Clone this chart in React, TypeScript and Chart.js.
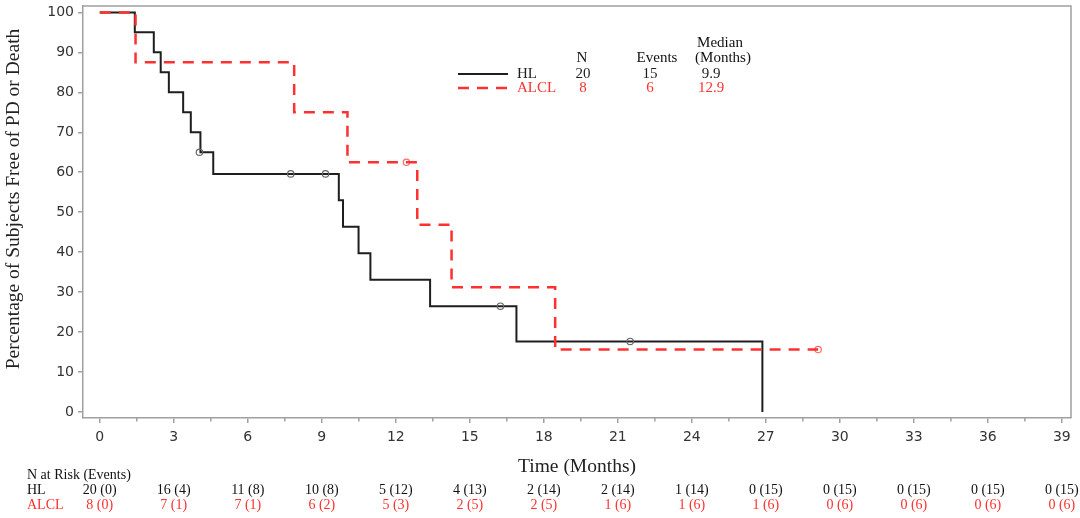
import React, { useEffect, useRef } from 'react';
import { Chart, registerables } from 'chart.js';

Chart.register(...registerables);

// ---- Data ----
const hlTimes = [0, 1.42, 2.19, 2.47, 2.8, 3.38, 3.69, 4.08, 4.6, 9.69, 9.86, 10.49, 10.97, 13.39, 16.89, 26.86];
const hlSurv = [100, 95, 90, 85, 80, 75, 70, 65, 59.58, 52.96, 46.34, 39.72, 33.1, 26.48, 17.65, 0];
const hlCensorTimes = [4.04, 7.74, 9.15, 16.24, 21.5];
const hlCensorSurv = [65, 59.58, 59.58, 26.48, 17.65];

const alclTimes = [0, 1.45, 7.88, 10.04, 12.87, 14.26, 18.46, 29.12];
const alclSurv = [100, 87.5, 75, 62.5, 46.88, 31.25, 15.63, 15.63];
const alclCensorTimes = [12.43, 29.12];
const alclCensorSurv = [62.5, 15.63];

const xTicks = [0, 3, 6, 9, 12, 15, 18, 21, 24, 27, 30, 33, 36, 39];
const xMinorTicks = [1.5, 4.5, 7.5, 10.5, 13.5, 16.5, 19.5, 22.5, 25.5, 28.5, 31.5, 34.5, 37.5];
const yTicks = [0, 10, 20, 30, 40, 50, 60, 70, 80, 90, 100];

const riskTimes = [0, 3, 6, 9, 12, 15, 18, 21, 24, 27, 30, 33, 36, 39];
const hlAtRisk = [20, 16, 11, 10, 5, 4, 2, 2, 1, 0, 0, 0, 0, 0];
const hlCumEvents = [0, 4, 8, 8, 12, 13, 14, 14, 14, 15, 15, 15, 15, 15];
const alclAtRisk = [8, 7, 7, 6, 5, 2, 2, 1, 1, 1, 0, 0, 0, 0];
const alclCumEvents = [0, 1, 1, 2, 3, 5, 5, 6, 6, 6, 6, 6, 6, 6];

const groupNames = ['HL', 'ALCL'];
const groupN = ['20', '8'];
const groupEvents = ['15', '6'];
const groupMedian = ['9.9', '12.9'];

// ---- Styles ----
const BLACK = '#1e1e1e';
const RED = '#ff3030';
const AXIS = '#a0a0a0';
const SERIF = '"Liberation Serif", "Times New Roman", serif';
const SANS = '"DejaVu Sans", Verdana, sans-serif';

const toPts = (xs: number[], ys: number[]) => xs.map((x, i) => ({ x, y: ys[i] }));

const extrasPlugin = {
  id: 'kmExtras',
  afterDraw(chart: any) {
    const { ctx, chartArea, scales } = chart;
    const xs = scales.x;
    ctx.save();
    // top and right frame lines
    ctx.strokeStyle = AXIS;
    ctx.lineWidth = 1.5;
    ctx.beginPath();
    ctx.moveTo(chartArea.left, chartArea.top);
    ctx.lineTo(chartArea.right, chartArea.top);
    ctx.lineTo(chartArea.right, chartArea.bottom);
    ctx.stroke();
    // minor ticks
    ctx.beginPath();
    xMinorTicks.forEach((v) => {
      const px = xs.getPixelForValue(v);
      ctx.moveTo(px, chartArea.bottom);
      ctx.lineTo(px, chartArea.bottom + 3.5);
    });
    ctx.stroke();

    // y-axis title
    ctx.save();
    ctx.translate(14, 199);
    ctx.rotate(-Math.PI / 2);
    ctx.font = `19.5px ${SERIF}`;
    ctx.fillStyle = '#222';
    ctx.textAlign = 'center';
    ctx.textBaseline = 'middle';
    ctx.fillText('Percentage of Subjects Free of PD or Death', 0, 0);
    ctx.restore();

    // legend
    const colors = [BLACK, RED];
    ctx.font = `15px ${SERIF}`;
    ctx.textBaseline = 'middle';
    ctx.textAlign = 'center';
    ctx.fillStyle = '#111';
    ctx.fillText('N', 582, 58);
    ctx.fillText('Events', 657, 58);
    ctx.fillText('Median', 720, 43);
    ctx.fillText('(Months)', 723, 58);
    const rowY = [74, 88];
    groupNames.forEach((name, i) => {
      const y = rowY[i];
      ctx.strokeStyle = colors[i];
      ctx.lineWidth = i === 0 ? 2 : 2.5;
      ctx.setLineDash(i === 0 ? [] : [11, 8]);
      ctx.beginPath();
      ctx.moveTo(458, y);
      ctx.lineTo(508, y);
      ctx.stroke();
      ctx.setLineDash([]);
      ctx.fillStyle = colors[i];
      ctx.textAlign = 'left';
      ctx.fillText(name, 517, y);
      ctx.textAlign = 'center';
      ctx.fillText(groupN[i], 583, y);
      ctx.fillText(groupEvents[i], 650, y);
      ctx.fillText(groupMedian[i], 711, y);
    });

    // risk table
    ctx.font = `14px ${SERIF}`;
    ctx.textAlign = 'left';
    ctx.fillStyle = '#111';
    ctx.fillText('N at Risk (Events)', 27, 475);
    ctx.fillText(groupNames[0], 27, 490);
    ctx.fillStyle = RED;
    ctx.fillText(groupNames[1], 27, 505);
    ctx.textAlign = 'center';
    riskTimes.forEach((t, i) => {
      const px = xs.getPixelForValue(t);
      ctx.fillStyle = '#111';
      ctx.fillText(`${hlAtRisk[i]} (${hlCumEvents[i]})`, px, 490);
      ctx.fillStyle = RED;
      ctx.fillText(`${alclAtRisk[i]} (${alclCumEvents[i]})`, px, 505);
    });
    ctx.restore();
  },
};

export default function App() {
  const canvasRef = useRef<HTMLCanvasElement | null>(null);

  useEffect(() => {
    const canvas = canvasRef.current;
    if (!canvas) return;
    const chart = new Chart(canvas, {
      type: 'line',
      data: {
        datasets: [
          {
            label: 'HL',
            data: toPts(hlTimes, hlSurv),
            borderColor: BLACK,
            borderWidth: 2,
            pointRadius: 0,
            stepped: 'before',
            fill: false,
            order: 2,
          },
          {
            label: 'HL censored',
            data: toPts(hlCensorTimes, hlCensorSurv),
            showLine: false,
            pointRadius: 3.2,
            pointStyle: 'circle',
            pointBorderColor: '#666',
            pointBackgroundColor: 'rgba(0,0,0,0)',
            pointBorderWidth: 1.2,
            order: 1,
          },
          {
            label: 'ALCL',
            data: toPts(alclTimes, alclSurv),
            borderColor: RED,
            borderWidth: 2.5,
            borderDash: [11, 8],
            pointRadius: 0,
            stepped: 'before',
            fill: false,
            order: 0,
          },
          {
            label: 'ALCL censored',
            data: toPts(alclCensorTimes, alclCensorSurv),
            showLine: false,
            pointRadius: 3.2,
            pointStyle: 'circle',
            pointBorderColor: '#ff6b6b',
            pointBackgroundColor: 'rgba(0,0,0,0)',
            pointBorderWidth: 1.2,
            order: 0,
          },
        ],
      },
      options: {
        animation: false,
        responsive: false,
        devicePixelRatio: 1,
        layout: { padding: { top: 6, right: 9, left: 0, bottom: 0 } },
        plugins: { legend: { display: false }, tooltip: { enabled: false } },
        scales: {
          x: {
            type: 'linear',
            min: -0.68,
            max: 39.37,
            afterBuildTicks: (s: any) => {
              s.ticks = xTicks.map((v) => ({ value: v }));
            },
            afterFit: (s: any) => {
              s.height = 100;
              s.paddingLeft = 0;
              s.paddingRight = 0;
            },
            grid: { drawOnChartArea: false, tickLength: 5, color: AXIS, lineWidth: 1.5 },
            border: { color: AXIS, width: 1.5 },
            ticks: {
              font: { family: SANS, size: 14 },
              color: '#333',
              padding: 6,
              maxRotation: 0,
              autoSkip: false,
            },
            title: {
              display: true,
              text: 'Time (Months)',
              font: { family: SERIF, size: 19.5 },
              color: '#222',
              padding: { top: 0, bottom: 39 },
            },
          },
          y: {
            type: 'linear',
            min: -1.5,
            max: 101.6,
            afterBuildTicks: (s: any) => {
              s.ticks = yTicks.map((v) => ({ value: v }));
            },
            afterFit: (s: any) => {
              s.width = 83;
              s.paddingTop = 0;
              s.paddingBottom = 0;
            },
            grid: { drawOnChartArea: false, tickLength: 5, color: AXIS, lineWidth: 1.5 },
            border: { color: AXIS, width: 1.5 },
            ticks: {
              font: { family: SANS, size: 14 },
              color: '#333',
              padding: 4,
              autoSkip: false,
            },
          },
        },
      },
      plugins: [extrasPlugin],
    });
    return () => chart.destroy();
  }, []);

  return (
    <div style={{ position: 'absolute', left: 0, top: 0, width: 1080, height: 518, background: '#fff' }}>
      <canvas ref={canvasRef} width={1080} height={518} style={{ display: 'block' }} />
    </div>
  );
}
